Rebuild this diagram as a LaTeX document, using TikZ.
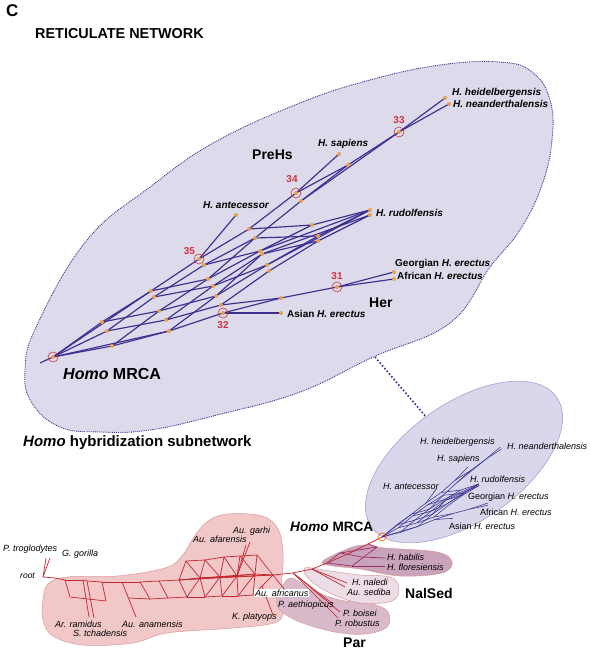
\documentclass[tikz,border=0pt]{standalone}
\usepackage{fontspec}
\setmainfont{Liberation Sans}
\usetikzlibrary{positioning}

\definecolor{netBlue}{HTML}{3B3090}
\definecolor{netRed}{HTML}{C4262E}
\definecolor{netPlum}{HTML}{9A2B6B}
\definecolor{knotOrange}{HTML}{E8A04C}
\definecolor{ringRed}{HTML}{D0343A}
\definecolor{homoFill}{HTML}{DCDAEB}
\definecolor{homoSmallFill}{HTML}{D9D7EC}
\definecolor{homoSmallRim}{HTML}{9C96C9}
\definecolor{ausFill}{HTML}{F1C7C8}
\definecolor{ausRim}{HTML}{D9999B}
\definecolor{parFill}{HTML}{D8BACB}
\definecolor{nalFill}{HTML}{EDDDE7}
\definecolor{habFill}{HTML}{C9A3BA}

% the Homo subnetwork, drawn once large and once small
\newcommand{\homocoords}[1]{%
  \coordinate (#1M)    at (53,357);
  \coordinate (#1a1)   at (102,322);
  \coordinate (#1a2)   at (107,331);
  \coordinate (#1a3)   at (112,346);
  \coordinate (#1b1)   at (151,291);
  \coordinate (#1b2)   at (154,297);
  \coordinate (#1b3)   at (159,311);
  \coordinate (#1b4)   at (166,320);
  \coordinate (#1b5)   at (169,331);
  \coordinate (#1r35)  at (199,259);
  \coordinate (#1r35b) at (204,265);
  \coordinate (#1d1)   at (208,279);
  \coordinate (#1d2)   at (213,286);
  \coordinate (#1d3)   at (216,296);
  \coordinate (#1d4)   at (221,305);
  \coordinate (#1r32)  at (223,313);
  \coordinate (#1e1)   at (249,229);
  \coordinate (#1e2)   at (255,238);
  \coordinate (#1e3)   at (260,251);
  \coordinate (#1e4)   at (262,254);
  \coordinate (#1e5)   at (267,265);
  \coordinate (#1e6)   at (269,271);
  \coordinate (#1f1)   at (281,298);
  \coordinate (#1asi)  at (281,313);
  \coordinate (#1r34)  at (296,193);
  \coordinate (#1g)    at (301,201);
  \coordinate (#1h1)   at (312,225);
  \coordinate (#1h2)   at (318,236);
  \coordinate (#1h3)   at (318,241);
  \coordinate (#1r31)  at (337,287);
  \coordinate (#1i)    at (348,165);
  \coordinate (#1sap)  at (339,154);
  \coordinate (#1ant)  at (236,215);
  \coordinate (#1rud1) at (370,210);
  \coordinate (#1rud2) at (370,215);
  \coordinate (#1r33)  at (399,132);
  \coordinate (#1hei)  at (445,98);
  \coordinate (#1nea)  at (449,104);
  \coordinate (#1geo)  at (394,272);
  \coordinate (#1afr)  at (394,279);
}
\newcommand{\homoedges}[2]{%
  \path[#2]
    (#1M) edge (#1a1) (#1M) edge (#1a2) (#1M) edge (#1a3)
    (#1M) edge (#1b1) (#1M) edge (#1b5)
    (#1a1) edge (#1b1) (#1a1) edge (#1b3) (#1a2) edge (#1b2) (#1a2) edge (#1b4)
    (#1a3) edge (#1b3) (#1a3) edge (#1b5)
    (#1b1) edge (#1r35) (#1b1) edge (#1d1) (#1b2) edge (#1r35b) (#1b2) edge (#1d2)
    (#1b3) edge (#1d1) (#1b3) edge (#1d3) (#1b4) edge (#1d2) (#1b4) edge (#1d4)
    (#1b5) edge (#1d3) (#1b5) edge (#1r32)
    (#1r35) edge (#1ant) (#1r35) edge (#1e1) (#1r35b) edge (#1e2) (#1r35b) edge (#1e3)
    (#1d1) edge (#1e3) (#1d1) edge (#1e2) (#1d2) edge (#1e4) (#1d2) edge (#1e5)
    (#1d3) edge (#1e5) (#1d3) edge (#1e4) (#1d4) edge (#1e6)
    (#1e1) edge (#1r34) (#1e1) edge (#1h1) (#1e2) edge (#1g) (#1e2) edge (#1h2)
    (#1e3) edge (#1h1) (#1e3) edge (#1rud1) (#1e4) edge (#1h3) (#1e4) edge (#1rud2)
    (#1e5) edge (#1h2) (#1e5) edge (#1rud1) (#1e6) edge (#1h3)
    (#1h1) edge (#1rud1) (#1h2) edge (#1rud1) (#1h3) edge (#1rud2)
    (#1r32) edge (#1asi) (#1r32) edge (#1f1) (#1d4) edge (#1f1)
    (#1f1) edge (#1r31) (#1r31) edge (#1geo) (#1r31) edge (#1afr)
    (#1r34) edge (#1sap) (#1r34) edge (#1i) (#1g) edge (#1i) (#1g) edge (#1r33)
    (#1i) edge (#1r33) (#1r33) edge (#1hei) (#1r33) edge (#1nea);
}

\begin{document}
\begin{tikzpicture}[x=1pt,y=-1pt]
  \tikzstyle{bigEdge} = [netBlue, line width=1.15pt];
  \tikzstyle{smallEdge} = [netBlue, line width=0.55pt];
  \tikzstyle{redEdge} = [netRed, line width=0.7pt];
  \tikzstyle{plumEdge} = [netPlum, line width=0.7pt];
  \tikzstyle{ring} = [circle, draw=ringRed, line width=0.6pt, minimum size=10pt, inner sep=0pt];
  \tikzstyle{nodeNum} = [text=ringRed, inner sep=0pt, font={\fontsize{10}{11}\selectfont\bfseries}];
  \tikzstyle{bigLeaf} = [anchor=west, inner sep=0pt, font={\fontsize{10}{11}\selectfont\bfseries}];
  \tikzstyle{smallLeaf} = [anchor=west, inner sep=0pt, font={\fontsize{9}{10}\selectfont}];
  \tikzstyle{cladeLabel} = [anchor=west, inner sep=0pt, font={\fontsize{14}{16}\selectfont\bfseries}];

  \useasboundingbox (0,0) rectangle (591,658);

  \node[anchor=west, inner sep=0pt, font={\fontsize{17}{19}\selectfont\bfseries}] (panel) at (6,11) {C};
  \node[anchor=west, inner sep=0pt, font={\fontsize{14.4}{16}\selectfont\bfseries}] (title) at (35,34) {RETICULATE NETWORK};

  % enlarged Homo subnetwork
  \draw[netBlue, line width=0.9pt, densely dotted, fill=homoFill]
    plot[smooth cycle, tension=0.7] coordinates {(300,103) (370,80) (440,65) (500,62) (532,72) (550,100) (552,140) (542,185) (520,230) (490,267) (450,323) (373,357) (300,392) (217,415) (150,430) (100,432) (60,427) (32,403) (25,370) (37,325) (87,240) (150,187) (215,142)};
  \coordinate (bigRim) at (375,357);
  \coordinate (smallRim) at (427,418);
  \draw[netBlue, line width=1.6pt, dotted] (bigRim) -- (smallRim);

  % small Homo ellipse
  \draw[homoSmallRim, line width=0.5pt, fill=homoSmallFill, rotate around={35:(464,462)}] (464,462) ellipse [x radius=113, y radius=59];

  % clade blobs
  \draw[ausRim, line width=0.5pt, fill=ausFill]
    plot[smooth cycle, tension=0.6] coordinates {(43,600) (48,584) (67,577) (117,576) (165,568) (182,556) (194,537) (208,521) (228,514) (262,516) (278,529) (283,553) (282,578) (281,600) (282,617) (270,624) (233,628) (167,633) (133,643) (83,645) (53,636) (43,620)};
  \draw[ausRim, line width=0.5pt, fill=parFill]
    plot[smooth cycle, tension=0.6] coordinates {(292,578) (312,590) (340,600) (372,604) (388,612) (387,627) (365,634) (335,632) (300,622) (280,610) (277,598) (283,585)};
  \draw[ausRim, line width=0.5pt, fill=nalFill]
    plot[smooth cycle, tension=0.6] coordinates {(305,568) (330,571) (360,575) (390,577) (399,588) (392,601) (360,603) (330,593) (310,580)};
  \draw[ausRim, line width=0.5pt, fill=habFill]
    plot[smooth cycle, tension=0.6] coordinates {(322,562) (340,552) (362,545) (385,548) (437,552) (452,562) (442,573) (400,576) (360,569) (333,566)};

  % red part of the network
  \coordinate (root) at (43,577);
  \coordinate (trog) at (46,558);
  \coordinate (gori) at (50,558);
  \coordinate (r0) at (55,578);
  \coordinate (u1) at (65,580);
  \coordinate (u2) at (83,580);
  \coordinate (u2b) at (87,581);
  \coordinate (u3) at (102,582);
  \coordinate (u4) at (122,582);
  \coordinate (u5) at (140,582);
  \coordinate (u6) at (159,581);
  \coordinate (u7) at (179,580);
  \coordinate (l1) at (70,597);
  \coordinate (l2) at (106,601);
  \coordinate (ramL) at (89,617);
  \coordinate (tchL) at (94,618);
  \coordinate (anaL) at (136,617);
  \coordinate (la0) at (129,598);
  \coordinate (la1) at (150,599);
  \coordinate (la2) at (168,598);
  \coordinate (la3) at (187,597);
  \coordinate (la4) at (205,597);
  \coordinate (la5) at (222,596);
  \coordinate (la6) at (238,596);
  \coordinate (la7) at (253,595);
  \coordinate (kp0) at (262,586);
  \coordinate (m1) at (200,578);
  \coordinate (m2) at (220,577);
  \coordinate (m3) at (237,576);
  \coordinate (m4) at (255,574);
  \coordinate (t0) at (186,561);
  \coordinate (t1) at (205,560);
  \coordinate (t2) at (224,557);
  \coordinate (t3) at (240,556);
  \coordinate (t4) at (257,555);
  \coordinate (bh) at (273,575);
  \coordinate (garL) at (250,542);
  \coordinate (afaL) at (246,545);
  \coordinate (plaL) at (273,615);
  \coordinate (afrL) at (285,590);
  \coordinate (hub) at (293,573);
  \coordinate (p1) at (312,569);
  \coordinate (p2) at (327,563);
  \coordinate (p3) at (350,553);
  \coordinate (p4) at (368,544);
  \coordinate (mrca) at (382,537);
  \coordinate (aetL) at (333,604);
  \coordinate (boiL) at (340,612);
  \coordinate (robL) at (338,618);
  \coordinate (nalL) at (347,583);
  \coordinate (sedL) at (345,587);
  \coordinate (hq1) at (340,553);
  \coordinate (hq2) at (377,547);
  \coordinate (hq3) at (352,566);
  \coordinate (hq4) at (362,557);
  \coordinate (habL) at (385,558);
  \coordinate (floL) at (385,566);

  \path[redEdge]
    (root) edge (trog) (root) edge (gori) (root) edge (r0) (r0) edge (u1)
    (u1) edge (u2) (u2) edge (u2b) (u2b) edge (u3) (u3) edge (u4) (u4) edge (u5) (u5) edge (u6) (u6) edge (u7)
    (u1) edge (l1) (l1) edge (l2) (l2) edge (u3) (u2) edge (ramL) (u2b) edge (tchL)
    (u4) edge (anaL) (la0) edge (la1) (la1) edge (la2) (la2) edge (la3) (la3) edge (la4)
    (la4) edge (la5) (la5) edge (la6) (la6) edge (la7) (la7) edge (kp0) (kp0) edge (bh)
    (u5) edge (la1) (u6) edge (la2) (u7) edge (la3)
    (u7) edge (t0) (t0) edge (t1) (t1) edge (t2) (t2) edge (t3) (t3) edge (t4)
    (m1) edge (t1) (m2) edge (t2) (m3) edge (t3) (m4) edge (t4)
    (t0) edge (m1) (t1) edge (m2) (t2) edge (m3) (t3) edge (m4)
    (u7) edge (m1) (m1) edge (m2) (m2) edge (m3) (m3) edge (m4) (m4) edge (bh)
    (la4) edge (m1) (la5) edge (m2) (la6) edge (m3) (la7) edge (m4)
    (la3) edge (m1) (la4) edge (m2) (la5) edge (m3) (la6) edge (m4)
    (u7) edge (bh) (u7) edge (m3) (m1) edge (bh) (m1) edge (m4) (t4) edge (bh)
    (m3) edge (garL) (m3) edge (afaL) (kp0) edge (plaL) (bh) edge (afrL)
    (bh) edge (hub) (hub) edge (p1) (p1) edge (p2) (p2) edge (p3) (p3) edge (p4) (p4) edge (mrca)
    (hub) edge (aetL) (hub) edge (boiL) (hub) edge (robL)
    (p1) edge (nalL) (p1) edge (sedL);
  \path[plumEdge]
    (p2) edge (hq1) (hq1) edge (hq2) (p2) edge (hq3) (hq3) edge (hq2)
    (hq1) edge (hq4) (hq4) edge (habL) (hq3) edge (floL) (hq2) edge (p4);

  % blue networks
  \homocoords{B}
  \begin{scope}[shift={(382,537)}, rotate=3.8, scale=0.316, shift={(-53,-357)}]
    \homocoords{S}
  \end{scope}
  \coordinate (Bstem) at (40,363);
  \draw[bigEdge] (Bstem) -- (BM);
  \homoedges{B}{bigEdge}
  \homoedges{S}{smallEdge}

  \foreach \k in {a1,a2,a3,b1,b2,b3,b4,b5,r35b,d1,d2,d3,d4,e1,e2,e3,e4,e5,e6,f1,asi,g,h1,h2,h3,i,sap,ant,rud1,rud2,hei,nea,geo,afr,M,r31,r32,r33,r34,r35}
    \fill[knotOrange] (B\k) circle (2.0);

  \node[ring] (ringM)  at (BM)   {};
  \node[ring] (ring31) at (Br31) {};
  \node[ring] (ring32) at (Br32) {};
  \node[ring] (ring33) at (Br33) {};
  \node[ring] (ring34) at (Br34) {};
  \node[ring] (ring35) at (Br35) {};
  \node[circle, draw=orange!80!red, line width=0.7pt, minimum size=8pt, inner sep=0pt] (ringS) at (SM) {};

  \node[nodeNum, above=1.5pt of ring31] {31};
  \node[nodeNum, below=3pt of ring32] {32};
  \node[nodeNum, above=3pt of ring33] {33};
  \node[nodeNum, above=5pt of ring34, xshift=-4pt] {34};
  \node[nodeNum, above left=0pt and 0pt of ring35] {35};

  % labels, enlarged network
  \node[bigLeaf] (lHei) at (452,93)  {\textit{H. heidelbergensis}};
  \node[bigLeaf] (lNea) at (453,104) {\textit{H. neanderthalensis}};
  \node[bigLeaf] (lSap) at (318,144) {\textit{H. sapiens}};
  \node[bigLeaf] (lAnt) at (203,205) {\textit{H. antecessor}};
  \node[bigLeaf] (lRud) at (376,213) {\textit{H. rudolfensis}};
  \node[bigLeaf] (lGeo) at (395,264) {Georgian \textit{H. erectus}};
  \node[bigLeaf] (lAfr) at (397,276) {African \textit{H. erectus}};
  \node[bigLeaf] (lAsi) at (287,314) {Asian \textit{H. erectus}};
  \node[cladeLabel] (lPreHs) at (252,155) {PreHs};
  \node[cladeLabel] (lHer) at (369,303) {Her};
  \node[anchor=west, inner sep=0pt, font={\fontsize{16}{18}\selectfont\bfseries}] (lMRCA) at (63,374) {\textit{Homo} MRCA};
  \node[anchor=west, inner sep=0pt, font={\fontsize{15}{17}\selectfont\bfseries}] (lSub) at (23,443) {\textit{Homo} hybridization subnetwork};

  % labels, small network
  \node[smallLeaf] (sHei) at (420,442) {\textit{H. heidelbergensis}};
  \node[smallLeaf] (sNea) at (507,446) {\textit{H. neanderthalensis}};
  \node[smallLeaf] (sSap) at (437,459) {\textit{H. sapiens}};
  \node[smallLeaf] (sAnt) at (383,486) {\textit{H. antecessor}};
  \node[smallLeaf] (sRud) at (470,479) {\textit{H. rudolfensis}};
  \node[smallLeaf] (sGeo) at (468,497) {Georgian \textit{H. erectus}};
  \node[smallLeaf] (sAfr) at (480,512) {African \textit{H. erectus}};
  \node[smallLeaf] (sAsi) at (449,526) {Asian \textit{H. erectus}};
  \node[anchor=west, inner sep=0pt, font={\fontsize{13.6}{15}\selectfont\bfseries}] (sMRCA) at (290,527) {\textit{Homo} MRCA};

  % labels, red part
  \node[smallLeaf] (lTrog) at (3,549)   {\textit{P. troglodytes}};
  \node[smallLeaf] (lGori) at (62,554)  {\textit{G. gorilla}};
  \node[smallLeaf, font={\fontsize{8.5}{10}\selectfont}] (lRoot) at (20,576) {\textit{root}};
  \node[smallLeaf] (lRam)  at (55,624)  {\textit{Ar. ramidus}};
  \node[smallLeaf] (lTch)  at (73,633)  {\textit{S. tchadensis}};
  \node[smallLeaf] (lAna)  at (122,624) {\textit{Au. anamensis}};
  \node[smallLeaf] (lGar)  at (233,531) {\textit{Au. garhi}};
  \node[smallLeaf] (lAfa)  at (193,539) {\textit{Au. afarensis}};
  \node[smallLeaf] (lPla)  at (232,617) {\textit{K. platyops}};
  \node[smallLeaf, fill=white, inner sep=0.8pt] (lAfri) at (254,593) {\textit{Au. africanus}};
  \node[smallLeaf] (lAet)  at (278,605) {\textit{P. aethiopicus}};
  \node[smallLeaf] (lBoi)  at (343,613) {\textit{P. boisei}};
  \node[smallLeaf] (lRob)  at (335,623) {\textit{P. robustus}};
  \node[smallLeaf] (lNal)  at (352,582) {\textit{H. naledi}};
  \node[smallLeaf] (lSed)  at (347,592) {\textit{Au. sediba}};
  \node[smallLeaf] (lHab)  at (387,557) {\textit{H. habilis}};
  \node[smallLeaf] (lFlo)  at (387,567) {\textit{H. floresiensis}};
  \node[cladeLabel] (lNalSed) at (405,593) {NalSed};
  \node[cladeLabel] (lPar) at (343,643) {Par};
\end{tikzpicture}
\end{document}
